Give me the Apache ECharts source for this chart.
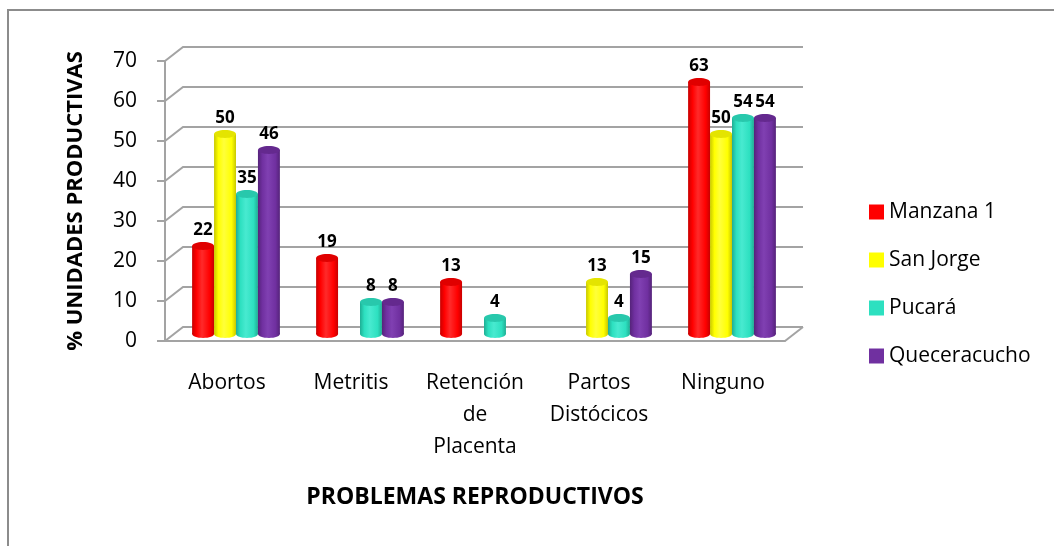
<!DOCTYPE html>
<html>
<head>
<meta charset="utf-8">
<script src="https://cdn.jsdelivr.net/npm/echarts@6/dist/echarts.min.js"></script>
<style>
  html, body { margin: 0; padding: 0; background: #fff; }
  #chart { width: 1054px; height: 546px; }
</style>
</head>
<body>
<div id="chart"></div>
<script>
// Reproductive problems per farm (% of productive units)
const categories = ['Abortos', 'Metritis', 'Retención\nde\nPlacenta', 'Partos\nDistócicos', 'Ninguno'];
const seriesNames = ['Manzana 1', 'San Jorge', 'Pucará', 'Queceracucho'];
const manzana1 = [22, 19, 13, null, 63];
const sanJorge = [50, null, null, 13, 50];
const pucara = [35, 8, 4, 4, 54];
const queceracucho = [46, 8, null, 15, 54];
const yTicks = [0, 10, 20, 30, 40, 50, 60, 70];

const FONT = '"Open Sans", Lato, sans-serif';
const GRID_COLOR = '#a3a3a3';
// depth offset of the back wall (3D look)
const DEPTH_X = 18, DEPTH_Y = -14;

// cylinder shading: edge shade, highlight, body, top cap
const palettes = [
  { base: '#ff0000', dark: '#c80000', light: '#ff2a2a', cap: '#e00000' },
  { base: '#ffff00', dark: '#c8c800', light: '#ffff3a', cap: '#e4e400' },
  { base: '#2de0c0', dark: '#1fae94', light: '#48ead0', cap: '#28c8ac' },
  { base: '#7030a0', dark: '#55237a', light: '#8040b2', cap: '#64298e' }
];
const seriesValues = [manzana1, sanJorge, pucara, queceracucho];

function cylinderRenderer(idx) {
  const p = palettes[idx];
  return function (params, api) {
    const cat = api.value(0);
    const v = api.value(1);
    const base = api.coord([cat, 0]);
    const top = api.coord([cat, v]);
    const band = api.size([1, 0])[0];
    const bw = band * 0.177;
    const cx = base[0] + (idx - 1.5) * bw;
    const rx = bw / 2, ry = bw * 0.18;
    const grad = new echarts.graphic.LinearGradient(0, 0, 1, 0, [
      { offset: 0, color: p.dark },
      { offset: 0.2, color: p.base },
      { offset: 0.45, color: p.light },
      { offset: 0.8, color: p.base },
      { offset: 1, color: p.dark }
    ]);
    return {
      type: 'group',
      children: [
        { type: 'ellipse', shape: { cx: cx, cy: base[1], rx: rx, ry: ry }, style: { fill: grad } },
        { type: 'rect', shape: { x: cx - rx, y: top[1], width: bw, height: base[1] - top[1] }, style: { fill: grad } },
        { type: 'ellipse', shape: { cx: cx, cy: top[1], rx: rx, ry: ry }, style: { fill: p.cap } },
        {
          type: 'text', z2: 10,
          style: {
            text: String(v), x: cx, y: top[1] - ry - 3,
            align: 'center', verticalAlign: 'bottom',
            font: 'bold 17px ' + FONT, fill: '#000'
          }
        }
      ]
    };
  };
}

// back-wall gridlines and floor joined to the front axis
function wallRenderer(params, api) {
  const v = api.value(1);
  const y = api.coord([0, v])[1];
  const cs = params.coordSys;
  const x0 = cs.x, w = cs.width;
  const children = [{
    type: 'polyline',
    shape: { points: [[x0, y], [x0 + DEPTH_X, y + DEPTH_Y], [x0 + DEPTH_X + w, y + DEPTH_Y]] },
    style: { stroke: GRID_COLOR, lineWidth: 2, fill: 'none' }
  }];
  if (v === 0) {
    children.push({
      type: 'line',
      shape: { x1: x0 + w, y1: y, x2: x0 + w + DEPTH_X, y2: y + DEPTH_Y },
      style: { stroke: GRID_COLOR, lineWidth: 2 }
    });
  }
  return { type: 'group', children: children };
}

const chart = echarts.init(document.getElementById('chart'), null, { renderer: 'canvas' });

const series = [{
  type: 'custom',
  xAxisIndex: 0, yAxisIndex: 0,
  silent: true, z: 1,
  renderItem: wallRenderer,
  data: yTicks.map(function (t) { return [0, t]; })
}];
seriesValues.forEach(function (arr, i) {
  series.push({
    name: seriesNames[i],
    type: 'custom',
    xAxisIndex: 1, yAxisIndex: 1,
    z: 2,
    itemStyle: { color: palettes[i].base },
    renderItem: cylinderRenderer(i),
    data: arr.map(function (v, c) { return [c, v]; }).filter(function (d) { return d[1] !== null; })
  });
});

chart.setOption({
  animation: false,
  backgroundColor: '#fff',
  textStyle: { fontFamily: FONT },
  graphic: [{
    type: 'rect', silent: true,
    shape: { x: 8, y: 10, width: 1200, height: 700 },
    style: { fill: 'none', stroke: '#8c8c8c', lineWidth: 2 }
  }],
  legend: {
    orient: 'vertical',
    left: 864, top: 196,
    itemWidth: 15, itemHeight: 15, itemGap: 26,
    icon: 'rect',
    data: seriesNames,
    textStyle: { fontSize: 21, fontFamily: FONT, color: '#000', lineHeight: 22 }
  },
  grid: [
    { left: 165, top: 61, width: 620, height: 280 },
    { left: 174, top: 54, width: 620, height: 280 }
  ],
  xAxis: [{
    type: 'category', gridIndex: 0,
    data: categories,
    axisLine: { lineStyle: { color: GRID_COLOR, width: 2 } },
    axisTick: { show: false },
    axisLabel: { fontSize: 21, fontFamily: FONT, color: '#000', lineHeight: 32, margin: 26, interval: 0 },
    name: 'PROBLEMAS REPRODUCTIVOS',
    nameLocation: 'middle', nameGap: 145,
    nameTextStyle: { fontSize: 23, fontWeight: 'bold', fontFamily: FONT, color: '#000' }
  }, {
    type: 'category', gridIndex: 1,
    data: categories, show: false
  }],
  yAxis: [{
    type: 'value', gridIndex: 0,
    min: 0, max: 70, interval: 10,
    axisLine: { show: true, lineStyle: { color: GRID_COLOR, width: 2 } },
    axisTick: { show: true, length: 8, lineStyle: { color: GRID_COLOR, width: 2 } },
    splitLine: { show: false },
    axisLabel: { fontSize: 21, fontFamily: FONT, color: '#000', margin: 28 },
    name: '% UNIDADES PRODUCTIVAS',
    nameLocation: 'middle', nameRotate: 90, nameGap: 78,
    nameTextStyle: { fontSize: 22, fontWeight: 'bold', fontFamily: FONT, color: '#000' }
  }, {
    type: 'value', gridIndex: 1,
    min: 0, max: 70, interval: 10, show: false,
    splitLine: { show: false }
  }],
  series: series
});
</script>
</body>
</html>
